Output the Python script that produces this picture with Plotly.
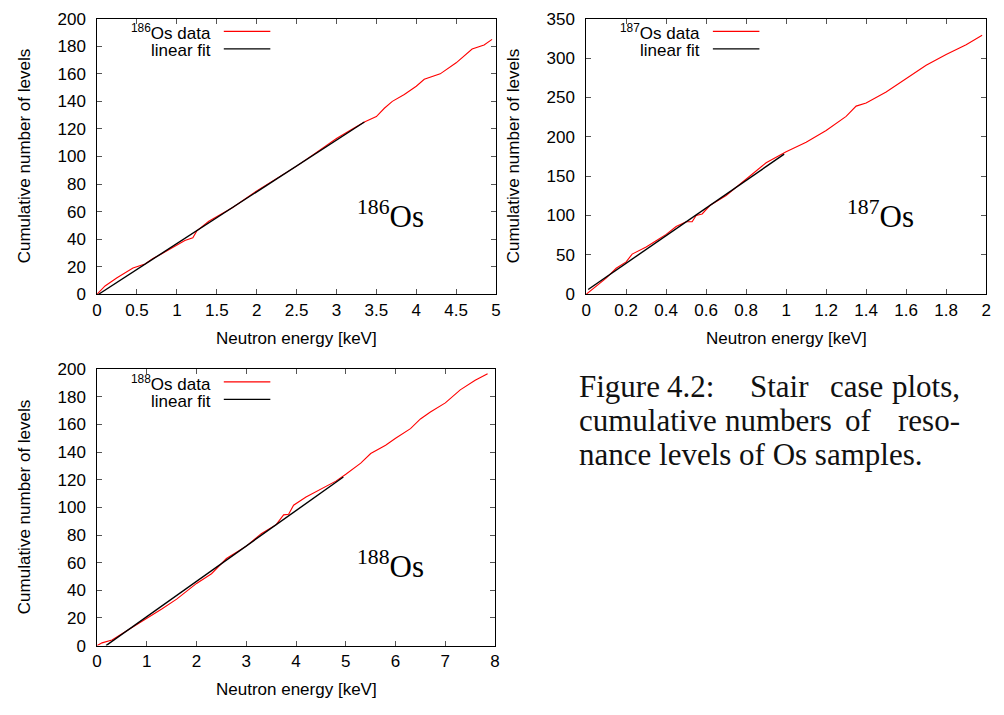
import plotly.graph_objects as go

W, H = 1004, 715

# ---------------- data ----------------
os186_E = [0, 0.1, 0.25, 0.45, 0.6, 0.7, 0.8, 0.9, 1.0, 1.1, 1.2, 1.25, 1.4, 1.5, 1.7, 2.0, 2.2,
           2.5, 2.7, 3.0, 3.2, 3.35, 3.5, 3.6, 3.7, 3.85, 4.0, 4.1, 4.3, 4.5, 4.7, 4.85, 4.95]
os186_N = [0, 6, 12, 19, 22, 26, 29, 32.5, 36, 39, 41, 46, 53, 56.5, 63, 75, 82,
           93, 101, 113, 120, 125, 129, 135, 140, 145, 151, 156, 160, 168, 178, 181, 185]
fit186_E = [0.02, 3.35]
fit186_N = [0, 125]

os187_E = [0, 0.02, 0.05, 0.1, 0.15, 0.2, 0.23, 0.3, 0.35, 0.4, 0.45, 0.5, 0.53, 0.55, 0.58, 0.62,
           0.7, 0.8, 0.9, 1.0, 1.1, 1.2, 1.3, 1.35, 1.4, 1.5, 1.6, 1.7, 1.8, 1.9, 1.98]
os187_N = [0, 4, 10, 20.5, 33, 41, 51, 60, 68, 76, 86, 92, 92, 100, 102, 113,
           125.5, 146, 167, 181, 193, 208, 226, 239, 243, 257, 274, 291, 304.5, 317, 329]
fit187_E = [0.01, 0.99]
fit187_N = [6, 178]

os188_E = [0, 0.1, 0.3, 0.5, 0.7, 1.0, 1.3, 1.6, 1.8, 2.0, 2.3, 2.6, 3.0, 3.3, 3.6, 3.75, 3.85,
           3.95, 4.2, 4.5, 4.8, 5.0, 5.3, 5.5, 5.8, 6.0, 6.3, 6.5, 6.7, 7.0, 7.3, 7.6, 7.85]
os188_N = [0, 2, 4, 8.5, 12.4, 19.5, 26.5, 33.6, 39.4, 45, 52, 63, 72, 81, 87.5, 94.6, 95,
           101.6, 107.5, 113, 119, 124, 132, 139, 145, 150, 157, 164, 169, 175.6, 185, 192, 196.7]
fit188_E = [0.18, 4.95]
fit188_N = [0, 122]

x_ticks_186 = [0, 0.5, 1, 1.5, 2, 2.5, 3, 3.5, 4, 4.5, 5]
y_ticks_186 = [0, 20, 40, 60, 80, 100, 120, 140, 160, 180, 200]
x_ticks_187 = [0, 0.2, 0.4, 0.6, 0.8, 1, 1.2, 1.4, 1.6, 1.8, 2]
y_ticks_187 = [0, 50, 100, 150, 200, 250, 300, 350]
x_ticks_188 = [0, 1, 2, 3, 4, 5, 6, 7, 8]
y_ticks_188 = [0, 20, 40, 60, 80, 100, 120, 140, 160, 180, 200]

labels = ["186", "187", "188"]
x_title = "Neutron energy [keV]"
y_title = "Cumulative number of levels"
caption_lines = [
    ["Figure", "4.2:", "Stair", "case", "plots,"],
    ["cumulative", "numbers", "of", "reso-"],
    ["nance levels of Os samples."],
]

# ---------------- layout geometry (pixels) ----------------
panels = [
    dict(x0=93, x1=496, y0=10, y1=293),      # 186
    dict(x0=587, x1=991, y0=10, y1=293),     # 187
    dict(x0=93, x1=495, y0=370, y1=654),     # 188
]

def px(x):
    return x / W

def py(y):
    return 1 - y / H

RED = "#ff0000"
SANS = "Liberation Sans, Arial, sans-serif"
SERIF = "Liberation Serif, Times New Roman, serif"
FS = 17
YPAD = "\u2009\u2009"   # small gap between y tick labels and the axis

fig = go.Figure()
series = [
    (os186_E, os186_N, fit186_E, fit186_N),
    (os187_E, os187_N, fit187_E, fit187_N),
    (os188_E, os188_N, fit188_E, fit188_N),
]
for i, (ex, ny, fx, fy) in enumerate(series):
    xa = "x" if i == 0 else f"x{i+1}"
    ya = "y" if i == 0 else f"y{i+1}"
    fig.add_trace(go.Scatter(x=ex, y=ny, mode="lines", line=dict(color=RED, width=1.1),
                             xaxis=xa, yaxis=ya, showlegend=False))
    fig.add_trace(go.Scatter(x=fx, y=fy, mode="lines", line=dict(color="black", width=1.4),
                             xaxis=xa, yaxis=ya, showlegend=False))

ranges = [
    ([0, 5], [0, 200], x_ticks_186, y_ticks_186),
    ([0, 2], [0, 350], x_ticks_187, y_ticks_187),
    ([0, 8], [0, 200], x_ticks_188, y_ticks_188),
]

layout = dict(
    width=W, height=H, margin=dict(l=0, r=0, t=0, b=0),
    paper_bgcolor="white", plot_bgcolor="white", showlegend=False,
    font=dict(family=SANS, size=FS, color="black"),
)
annotations = []
shapes = []
for i, (p, (xr, yr, xt, yt)) in enumerate(zip(panels, ranges)):
    sfx = "" if i == 0 else str(i + 1)
    common = dict(showline=True, linecolor="black", linewidth=1, mirror="ticks",
                  ticks="inside", ticklen=5, tickwidth=1, tickcolor="#555555",
                  showgrid=False, zeroline=False, tickfont=dict(family=SANS, size=FS))
    layout["xaxis" + sfx] = dict(domain=[px(p["x0"]), px(p["x1"])], range=xr,
                                 tickvals=xt, ticktext=[f"{v:g}" for v in xt],
                                 anchor="y" + sfx, **common)
    layout["yaxis" + sfx] = dict(domain=[py(p["y1"]), py(p["y0"])], range=yr,
                                 tickvals=yt, ticktext=[f"{v:g}{YPAD}" for v in yt],
                                 anchor="x" + sfx, **common)
    cx = (p["x0"] + p["x1"]) / 2
    cy = (p["y0"] + p["y1"]) / 2
    # axis titles
    annotations.append(dict(x=px(cx), y=py(p["y1"] + 45), xref="paper", yref="paper",
                            text=x_title, showarrow=False, xanchor="center", yanchor="middle",
                            font=dict(family=SANS, size=FS)))
    annotations.append(dict(x=px(p["x0"] - 73), y=py(cy), xref="paper", yref="paper",
                            text=y_title, showarrow=False, textangle=-90,
                            xanchor="center", yanchor="middle",
                            font=dict(family=SANS, size=FS)))
    # legend (gnuplot style)
    lx_text = p["x0"] + 117
    l_line0 = p["x0"] + 128
    l_line1 = p["x0"] + 175
    r1 = p["y0"] + 13
    r2 = p["y0"] + 31
    annotations.append(dict(x=px(lx_text), y=py(r1 + 1), xref="paper", yref="paper",
                            text=f"<sup>{labels[i]}</sup>Os data", showarrow=False,
                            xanchor="right", yanchor="middle", font=dict(family=SANS, size=FS)))
    annotations.append(dict(x=px(lx_text), y=py(r2 + 2), xref="paper", yref="paper",
                            text="linear fit", showarrow=False,
                            xanchor="right", yanchor="middle", font=dict(family=SANS, size=FS)))
    shapes.append(dict(type="line", xref="paper", yref="paper", x0=px(l_line0), x1=px(l_line1),
                       y0=py(r1), y1=py(r1), line=dict(color=RED, width=1.2)))
    shapes.append(dict(type="line", xref="paper", yref="paper", x0=px(l_line0), x1=px(l_line1),
                       y0=py(r2), y1=py(r2), line=dict(color="black", width=1.4)))
    # isotope label
    annotations.append(dict(x=px(p["x0"] + 261), y=py(p["y0"] + 201), xref="paper", yref="paper",
                            text=f"<sup>{labels[i]}</sup>Os", showarrow=False,
                            xanchor="left", yanchor="middle",
                            font=dict(family=SERIF, size=31)))

# caption (justified lines placed word by word: first left, last right, others centred)
cap_x = [[578, 692, 782, 860, 967], [578, 781, 862, 967], [578]]
cap_y = [388, 423, 458]
for words, xs, yy in zip(caption_lines, cap_x, cap_y):
    n = len(words)
    for k, (wtxt, xx) in enumerate(zip(words, xs)):
        if k == 0:
            anc = "left"
        elif k == n - 1:
            anc = "right"
        else:
            anc = "center"
        annotations.append(dict(x=px(xx), y=py(yy), xref="paper", yref="paper", text=wtxt,
                                showarrow=False, xanchor=anc, yanchor="middle",
                                font=dict(family=SERIF, size=31, color="#111111")))

layout["annotations"] = annotations
layout["shapes"] = shapes
fig.update_layout(**layout)
fig.write_html("out.html")
